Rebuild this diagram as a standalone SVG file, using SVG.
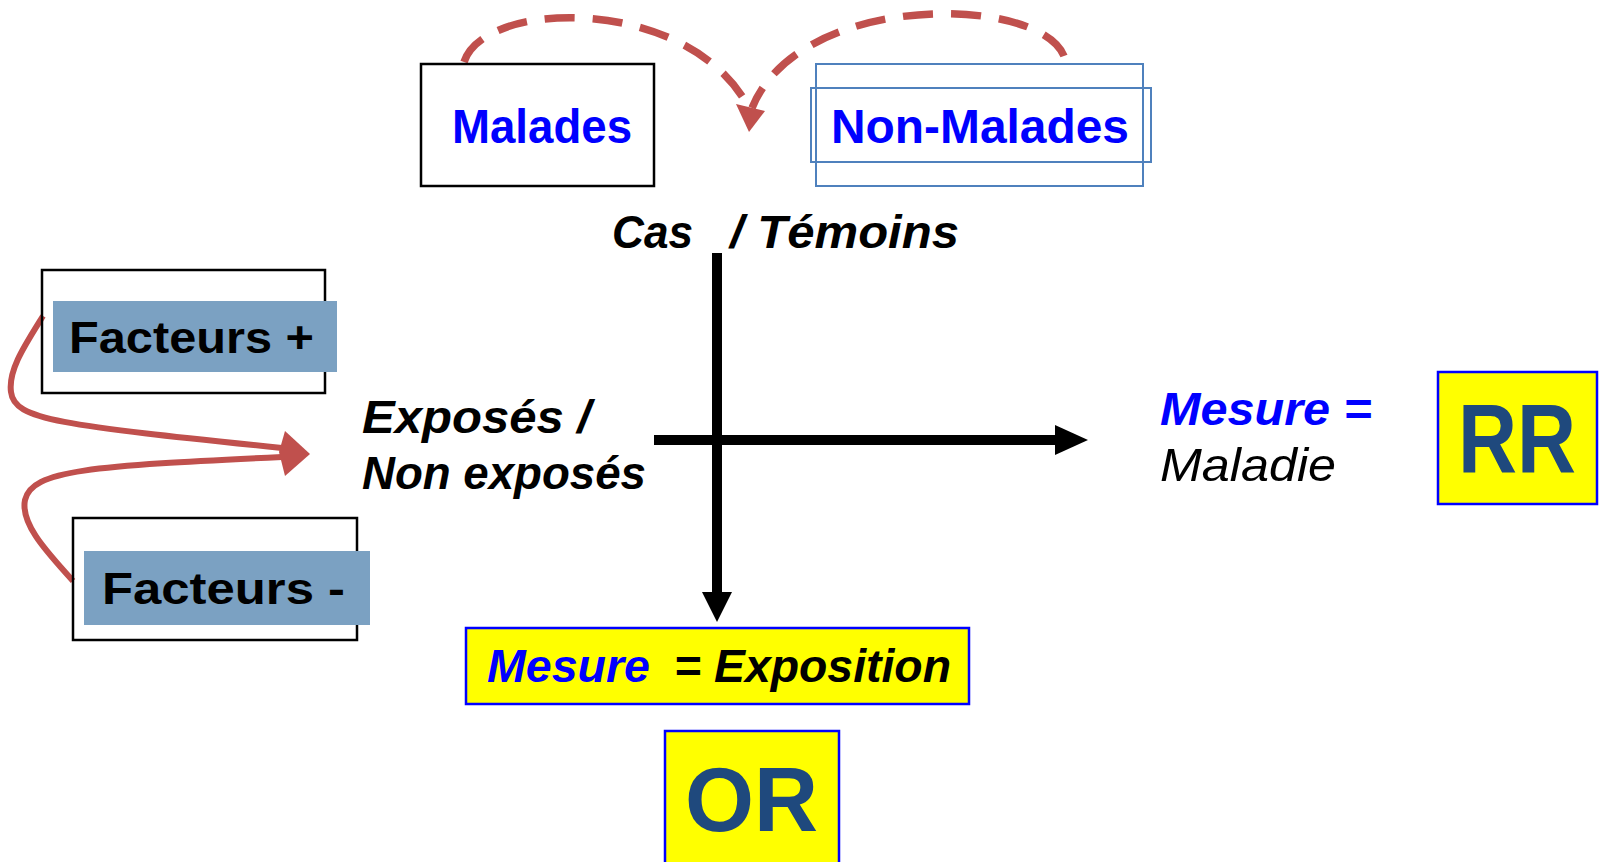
<svg xmlns="http://www.w3.org/2000/svg" width="1599" height="862" viewBox="0 0 1599 862">
  <style>
    .frame { fill: none; stroke: #000; stroke-width: 2.5; }
    .frame-blue { fill: none; stroke: #4F81BD; stroke-width: 2; }
    .chip { fill: #7BA1C2; }
    .box-yellow { fill: #FFFF00; stroke: #0000FF; stroke-width: 2.5; }
    .t { font-family: "Liberation Sans", Arial, sans-serif; font-weight: bold; }
    .it { font-style: italic; }
    .blue { fill: #0000FF; }
    .black { fill: #000; }
    .navy { fill: #1F497D; }
    .axis { stroke: #000; stroke-width: 10; fill: none; }
    .red-dash { fill: none; stroke: #C0504D; stroke-width: 7.5; stroke-dasharray: 30 18; }
    .red-curve { fill: none; stroke: #C0504D; stroke-width: 6; }
  </style>

  <rect width="1599" height="862" fill="#fff"/>

  <!-- connectors -->
  <g id="connectors">
    <!-- dashed arcs between the two groups -->
    <path class="red-dash" d="M464,62 C485,-2 690,-5 749,108"/>
    <path class="red-dash" d="M1064,56 C1040,-5 800,-10 752,108"/>
    <polygon points="736,104 765,111 749,132" fill="#C0504D"/>

    <!-- curved arrows from factors to exposure -->
    <path class="red-curve" d="M43,316 C25,345 8,370 11,392 C14,420 60,425 282,448"/>
    <path class="red-curve" d="M73,581 C50,555 20,525 25,500 C32,470 90,466 282,457"/>
    <polygon points="285,431 310,454 285,476 279,452" fill="#C0504D"/>

    <!-- axes -->
    <line class="axis" x1="717" y1="253" x2="717" y2="595"/>
    <polygon points="702,592 732,592 717,622" fill="#000"/>
    <line class="axis" x1="654" y1="440" x2="1058" y2="440"/>
    <polygon points="1055,425 1055,455 1088,440" fill="#000"/>
  </g>

  <g id="malades">
    <rect class="frame" x="421" y="64" width="233" height="122"/>
    <text class="t blue" x="452" y="143" font-size="48" textLength="180" lengthAdjust="spacingAndGlyphs">Malades</text>
  </g>

  <g id="non-malades">
    <rect class="frame-blue" x="816" y="64" width="327" height="122"/>
    <rect class="frame-blue" x="811" y="88" width="340" height="74"/>
    <text class="t blue" x="831" y="143" font-size="48" textLength="298" lengthAdjust="spacingAndGlyphs">Non-Malades</text>
  </g>

  <g id="cas-temoins">
    <text class="t it black" y="248" font-size="46"><tspan x="612" textLength="81" lengthAdjust="spacingAndGlyphs">Cas</tspan><tspan x="730" textLength="229" lengthAdjust="spacingAndGlyphs">/ Témoins</tspan></text>
  </g>

  <g id="facteurs-plus">
    <rect class="frame" x="42" y="270" width="283" height="123"/>
    <rect class="chip" x="53" y="301" width="284" height="71"/>
    <text class="t black" x="69" y="353" font-size="44" textLength="245" lengthAdjust="spacingAndGlyphs">Facteurs +</text>
  </g>

  <g id="facteurs-moins">
    <rect class="frame" x="73" y="518" width="284" height="122"/>
    <rect class="chip" x="84" y="551" width="286" height="74"/>
    <text class="t black" x="102" y="604" font-size="44" textLength="243" lengthAdjust="spacingAndGlyphs">Facteurs -</text>
  </g>

  <g id="exposes">
    <text class="t it black" x="362" y="433" font-size="46" textLength="229" lengthAdjust="spacingAndGlyphs">Exposés /</text>
    <text class="t it black" x="362" y="489" font-size="46" textLength="284" lengthAdjust="spacingAndGlyphs">Non exposés</text>
  </g>

  <g id="mesure-maladie">
    <text class="t it blue" x="1160" y="425" font-size="46" textLength="212" lengthAdjust="spacingAndGlyphs">Mesure =</text>
    <text class="it black" x="1160" y="481" font-size="46" font-family="Liberation Sans, Arial, sans-serif" textLength="176" lengthAdjust="spacingAndGlyphs">Maladie</text>
  </g>

  <g id="rr">
    <rect class="box-yellow" x="1438" y="372" width="159" height="132"/>
    <text class="t navy" x="1458" y="473" font-size="98" textLength="118" lengthAdjust="spacingAndGlyphs">RR</text>
  </g>

  <g id="mesure-exposition">
    <rect class="box-yellow" x="466" y="628" width="503" height="76"/>
    <text class="t it" y="682" font-size="46"><tspan class="blue" x="487" textLength="163" lengthAdjust="spacingAndGlyphs">Mesure</tspan><tspan class="black" x="674" textLength="277" lengthAdjust="spacingAndGlyphs">= Exposition</tspan></text>
  </g>

  <g id="or">
    <rect class="box-yellow" x="665" y="731" width="174" height="140"/>
    <text class="t navy" x="685" y="831" font-size="90" textLength="133" lengthAdjust="spacingAndGlyphs">OR</text>
  </g>
</svg>
